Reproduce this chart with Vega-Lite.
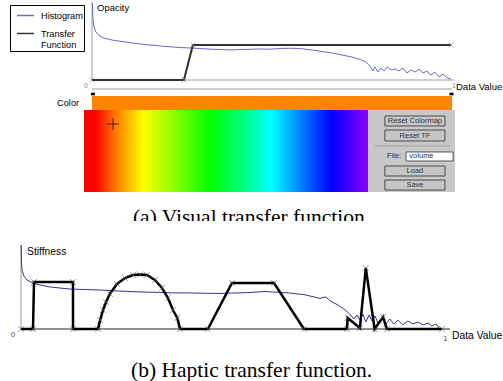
{
  "$schema": "https://vega.github.io/schema/vega-lite/v6.json",
  "width": 503,
  "height": 381,
  "padding": 0,
  "autosize": {"type": "none"},
  "background": "white",
  "config": {"view": {"stroke": null}, "text": {"font": "Liberation Sans"}},
  "datasets": {
    "rulesA": [
      {"dv": 0, "dv2": 0, "op": 0, "op2": 1.01},
      {"dv": 0, "dv2": 1.008, "op": 0, "op2": 0},
      {"dv": 0, "dv2": 1.003, "op": -0.117, "op2": -0.117}
    ],
    "barA": [{"dv": 0, "dv2": 1.003, "op": -0.208, "op2": -0.39}],
    "handlesA": [
      {"dv": -0.003, "dv2": 0.0085, "op": -0.165, "op2": -0.199},
      {"dv": 0.9958, "dv2": 1.007, "op": -0.165, "op2": -0.199}
    ],
    "histA": [
      {"s": "Histogram", "dv": 0.0014, "op": 1.0},
      {"s": "Histogram", "dv": 0.0028, "op": 0.779},
      {"s": "Histogram", "dv": 0.0056, "op": 0.688},
      {"s": "Histogram", "dv": 0.011, "op": 0.623},
      {"s": "Histogram", "dv": 0.0195, "op": 0.578},
      {"s": "Histogram", "dv": 0.033, "op": 0.545},
      {"s": "Histogram", "dv": 0.056, "op": 0.519},
      {"s": "Histogram", "dv": 0.092, "op": 0.494},
      {"s": "Histogram", "dv": 0.134, "op": 0.468},
      {"s": "Histogram", "dv": 0.189, "op": 0.442},
      {"s": "Histogram", "dv": 0.245, "op": 0.422},
      {"s": "Histogram", "dv": 0.301, "op": 0.409},
      {"s": "Histogram", "dv": 0.33, "op": 0.4},
      {"s": "Histogram", "dv": 0.357, "op": 0.396},
      {"s": "Histogram", "dv": 0.385, "op": 0.39},
      {"s": "Histogram", "dv": 0.412, "op": 0.396},
      {"s": "Histogram", "dv": 0.44, "op": 0.398},
      {"s": "Histogram", "dv": 0.468, "op": 0.403},
      {"s": "Histogram", "dv": 0.495, "op": 0.4},
      {"s": "Histogram", "dv": 0.524, "op": 0.409},
      {"s": "Histogram", "dv": 0.55, "op": 0.412},
      {"s": "Histogram", "dv": 0.579, "op": 0.409},
      {"s": "Histogram", "dv": 0.613, "op": 0.39},
      {"s": "Histogram", "dv": 0.641, "op": 0.37},
      {"s": "Histogram", "dv": 0.669, "op": 0.351},
      {"s": "Histogram", "dv": 0.696, "op": 0.325},
      {"s": "Histogram", "dv": 0.724, "op": 0.299},
      {"s": "Histogram", "dv": 0.747, "op": 0.266},
      {"s": "Histogram", "dv": 0.763, "op": 0.234},
      {"s": "Histogram", "dv": 0.774, "op": 0.182},
      {"s": "Histogram", "dv": 0.783, "op": 0.117},
      {"s": "Histogram", "dv": 0.788, "op": 0.169},
      {"s": "Histogram", "dv": 0.797, "op": 0.104},
      {"s": "Histogram", "dv": 0.805, "op": 0.156},
      {"s": "Histogram", "dv": 0.813, "op": 0.117},
      {"s": "Histogram", "dv": 0.822, "op": 0.169},
      {"s": "Histogram", "dv": 0.833, "op": 0.13},
      {"s": "Histogram", "dv": 0.844, "op": 0.143},
      {"s": "Histogram", "dv": 0.855, "op": 0.117},
      {"s": "Histogram", "dv": 0.866, "op": 0.156},
      {"s": "Histogram", "dv": 0.877, "op": 0.091},
      {"s": "Histogram", "dv": 0.889, "op": 0.13},
      {"s": "Histogram", "dv": 0.9, "op": 0.104},
      {"s": "Histogram", "dv": 0.911, "op": 0.143},
      {"s": "Histogram", "dv": 0.922, "op": 0.091},
      {"s": "Histogram", "dv": 0.933, "op": 0.117},
      {"s": "Histogram", "dv": 0.944, "op": 0.065},
      {"s": "Histogram", "dv": 0.955, "op": 0.104},
      {"s": "Histogram", "dv": 0.967, "op": 0.039},
      {"s": "Histogram", "dv": 0.978, "op": 0.078},
      {"s": "Histogram", "dv": 0.989, "op": 0.026},
      {"s": "Histogram", "dv": 1.0, "op": 0.013}
    ],
    "tfA": [
      {"s": "Transfer Function", "i": 0, "dv": 0, "op": 0},
      {"s": "Transfer Function", "i": 1, "dv": 0.256, "op": 0},
      {"s": "Transfer Function", "i": 2, "dv": 0.281, "op": 0.455},
      {"s": "Transfer Function", "i": 3, "dv": 1.0, "op": 0.455}
    ],
    "labelsA": [
      {"label": "Opacity", "dv": 0.0139, "op": 0.935},
      {"label": "Data Value", "dv": 1.0139, "op": -0.097}
    ],
    "labelsAright": [{"label": "Color", "dv": -0.036, "op": -0.299}],
    "ticksA": [
      {"label": "0", "dv": -0.0167, "op": -0.078},
      {"label": "1", "dv": 1.0084, "op": -0.078}
    ],
    "captionA": [{"label": "(a)  Visual transfer function", "dv": 0.114, "op": -1.87}],
    "maskA": [{"dv": 0.05, "dv2": 0.85, "op": -1.831, "op2": -2.0}],
    "gradW": [{"wx": 0, "wx2": 0.7655, "wy": 0, "wy2": 1}],
    "panelW": [{"wx": 0.7655, "wx2": 1, "wy": 0, "wy2": 1}],
    "buttonsW": [
      {"wx": 0.811, "wx2": 0.973, "wy": 0.073, "wy2": 0.195},
      {"wx": 0.811, "wx2": 0.973, "wy": 0.244, "wy2": 0.378},
      {"wx": 0.811, "wx2": 0.973, "wy": 0.683, "wy2": 0.805},
      {"wx": 0.811, "wx2": 0.973, "wy": 0.854, "wy2": 0.976}
    ],
    "btnLabelsW": [
      {"label": "Reset Colormap", "wx": 0.892, "wy": 0.134},
      {"label": "Reset TF", "wx": 0.892, "wy": 0.311},
      {"label": "Load", "wx": 0.892, "wy": 0.744},
      {"label": "Save", "wx": 0.892, "wy": 0.915}
    ],
    "sepW": [{"wx": 0.784, "wx2": 0.987, "wy": 0.439, "wy2": 0.439}],
    "fieldW": [{"wx": 0.868, "wx2": 0.995, "wy": 0.512, "wy2": 0.622}],
    "fieldLabelsW": [
      {"label": "File:", "wx": 0.817, "wy": 0.567},
      {"label": "volume", "wx": 0.877, "wy": 0.567}
    ],
    "crossW": [{"wx": 0.0782, "wy": 0.171}],
    "axisB": [{"dv": 0, "dv2": 0, "st": -0.01, "st2": 1.0}],
    "baseB": [{"dv": 0, "dv2": 1.019, "st": 0, "st2": 0}],
    "histB": [
      {"dv": 0.0005, "st": 1.0}, {"dv": 0.001, "st": 0.8}, {"dv": 0.0024, "st": 0.7},
      {"dv": 0.007, "st": 0.63}, {"dv": 0.014, "st": 0.583}, {"dv": 0.0285, "st": 0.548},
      {"dv": 0.045, "st": 0.524}, {"dv": 0.069, "st": 0.5}, {"dv": 0.116, "st": 0.476},
      {"dv": 0.15, "st": 0.47}, {"dv": 0.188, "st": 0.464}, {"dv": 0.22, "st": 0.455},
      {"dv": 0.259, "st": 0.446}, {"dv": 0.29, "st": 0.44}, {"dv": 0.33, "st": 0.435},
      {"dv": 0.36, "st": 0.43}, {"dv": 0.401, "st": 0.429}, {"dv": 0.44, "st": 0.425},
      {"dv": 0.473, "st": 0.423}, {"dv": 0.5, "st": 0.428}, {"dv": 0.52, "st": 0.43},
      {"dv": 0.544, "st": 0.435}, {"dv": 0.56, "st": 0.44}, {"dv": 0.58, "st": 0.446},
      {"dv": 0.6, "st": 0.44}, {"dv": 0.615, "st": 0.435}, {"dv": 0.635, "st": 0.43},
      {"dv": 0.656, "st": 0.417}, {"dv": 0.672, "st": 0.41}, {"dv": 0.686, "st": 0.393},
      {"dv": 0.698, "st": 0.38}, {"dv": 0.71, "st": 0.363}, {"dv": 0.717, "st": 0.375},
      {"dv": 0.724, "st": 0.381}, {"dv": 0.731, "st": 0.35}, {"dv": 0.739, "st": 0.321},
      {"dv": 0.753, "st": 0.286}, {"dv": 0.767, "st": 0.238}, {"dv": 0.781, "st": 0.179},
      {"dv": 0.791, "st": 0.119}, {"dv": 0.798, "st": 0.167}, {"dv": 0.805, "st": 0.107},
      {"dv": 0.812, "st": 0.179}, {"dv": 0.819, "st": 0.083}, {"dv": 0.827, "st": 0.167},
      {"dv": 0.834, "st": 0.095}, {"dv": 0.841, "st": 0.155}, {"dv": 0.848, "st": 0.071},
      {"dv": 0.857, "st": 0.131}, {"dv": 0.867, "st": 0.06}, {"dv": 0.876, "st": 0.119},
      {"dv": 0.886, "st": 0.06}, {"dv": 0.895, "st": 0.107}, {"dv": 0.907, "st": 0.048},
      {"dv": 0.919, "st": 0.095}, {"dv": 0.931, "st": 0.06}, {"dv": 0.943, "st": 0.083},
      {"dv": 0.955, "st": 0.048}, {"dv": 0.967, "st": 0.071}, {"dv": 0.976, "st": 0.036},
      {"dv": 0.986, "st": 0.06}, {"dv": 0.995, "st": 0.0}
    ],
    "tfB": [
      {"i": 0, "dv": 0, "st": 0}, {"i": 1, "dv": 0.0285, "st": 0}, {"i": 2, "dv": 0.0309, "st": 0.56},
      {"i": 3, "dv": 0.1235, "st": 0.56}, {"i": 4, "dv": 0.1236, "st": 0}, {"i": 5, "dv": 0.183, "st": 0},
      {"i": 6, "dv": 0.188, "st": 0.107}, {"i": 7, "dv": 0.195, "st": 0.226}, {"i": 8, "dv": 0.202, "st": 0.321},
      {"i": 9, "dv": 0.211, "st": 0.417}, {"i": 10, "dv": 0.228, "st": 0.536}, {"i": 11, "dv": 0.247, "st": 0.607},
      {"i": 12, "dv": 0.266, "st": 0.643}, {"i": 13, "dv": 0.283, "st": 0.649}, {"i": 14, "dv": 0.299, "st": 0.643},
      {"i": 15, "dv": 0.318, "st": 0.583}, {"i": 16, "dv": 0.335, "st": 0.488}, {"i": 17, "dv": 0.349, "st": 0.369},
      {"i": 18, "dv": 0.361, "st": 0.226}, {"i": 19, "dv": 0.371, "st": 0.131}, {"i": 20, "dv": 0.378, "st": 0},
      {"i": 21, "dv": 0.444, "st": 0}, {"i": 22, "dv": 0.501, "st": 0.548}, {"i": 23, "dv": 0.601, "st": 0.548},
      {"i": 24, "dv": 0.672, "st": 0}, {"i": 25, "dv": 0.774, "st": 0}, {"i": 26, "dv": 0.776, "st": 0.131},
      {"i": 27, "dv": 0.805, "st": 0.012}, {"i": 28, "dv": 0.819, "st": 0.726}, {"i": 29, "dv": 0.84, "st": 0},
      {"i": 30, "dv": 0.86, "st": 0.143}, {"i": 31, "dv": 0.869, "st": 0}, {"i": 32, "dv": 1.0, "st": 0}
    ],
    "labelsB": [
      {"label": "Stiffness", "dv": 0.0143, "st": 0.917},
      {"label": "Data Value", "dv": 1.0238, "st": -0.083}
    ],
    "ticksB": [
      {"label": "0", "dv": -0.019, "st": -0.071},
      {"label": "1", "dv": 1.008, "st": -0.119}
    ],
    "captionB": [{"label": "(b) Haptic transfer function.", "dv": 0.2613, "st": -0.571}]
  },
  "layer": [
    {
      "encoding": {
        "x": {"field": "dv", "type": "quantitative", "scale": {"domain": [0, 1], "range": [92, 451], "nice": false, "zero": false}, "axis": null},
        "y": {"field": "op", "type": "quantitative", "scale": {"domain": [0, 1], "range": [80, 3], "nice": false, "zero": false}, "axis": null}
      },
      "layer": [
        {"data": {"name": "rulesA"}, "mark": {"type": "rule", "color": "#9c9c9c", "strokeWidth": 1},
         "encoding": {"x2": {"field": "dv2"}, "y2": {"field": "op2"}}},
        {"data": {"name": "barA"}, "mark": {"type": "rect", "color": "#ff8400"},
         "encoding": {"x2": {"field": "dv2"}, "y2": {"field": "op2"}}},
        {"data": {"name": "handlesA"}, "mark": {"type": "rect", "color": "black"},
         "encoding": {"x2": {"field": "dv2"}, "y2": {"field": "op2"}}},
        {"data": {"name": "histA"}, "mark": {"type": "line", "strokeWidth": 1},
         "encoding": {"color": {"field": "s", "type": "nominal",
           "scale": {"domain": ["Histogram", "Transfer Function"], "range": ["#6a6ad2", "#333333"]},
           "legend": {"orient": "none", "legendX": 10, "legendY": 5, "title": null, "direction": "vertical",
             "strokeColor": "black", "fillColor": "white", "padding": 1, "symbolType": "stroke",
             "symbolSize": 289, "symbolStrokeWidth": 1.5, "symbolOffset": 5, "labelFont": "Liberation Sans",
             "labelFontSize": 9.2, "labelOffset": 6, "labelColor": "black", "rowPadding": 3, "labelLimit": 120,
             "labelExpr": "datum.label == 'Transfer Function' ? ['Transfer', 'Function'] : datum.label"}}}},
        {"data": {"name": "tfA"}, "mark": {"type": "line", "strokeWidth": 2},
         "encoding": {"order": {"field": "i"}, "color": {"field": "s", "type": "nominal",
           "scale": {"domain": ["Histogram", "Transfer Function"], "range": ["#6a6ad2", "#333333"]},
           "legend": {"orient": "none", "legendX": 10, "legendY": 5, "title": null, "direction": "vertical",
             "strokeColor": "black", "fillColor": "white", "padding": 1, "symbolType": "stroke",
             "symbolSize": 289, "symbolStrokeWidth": 1.5, "symbolOffset": 5, "labelFont": "Liberation Sans",
             "labelFontSize": 9.2, "labelOffset": 6, "labelColor": "black", "rowPadding": 3, "labelLimit": 120,
             "labelExpr": "datum.label == 'Transfer Function' ? ['Transfer', 'Function'] : datum.label"}}}},
        {"data": {"name": "tfA"}, "mark": {"type": "point", "shape": "M-1,-1L1,1M-1,1L1,-1", "size": 25, "filled": false, "color": "#777777", "strokeWidth": 0.8}},
        {"data": {"name": "labelsA"}, "mark": {"type": "text", "align": "left", "baseline": "middle", "fontSize": 9.5, "color": "black", "font": "Liberation Sans"},
         "encoding": {"text": {"field": "label"}}},
        {"data": {"name": "labelsAright"}, "mark": {"type": "text", "align": "right", "baseline": "middle", "fontSize": 9.2, "color": "black", "font": "Liberation Sans"},
         "encoding": {"text": {"field": "label"}}},
        {"data": {"name": "ticksA"}, "mark": {"type": "text", "align": "center", "baseline": "middle", "fontSize": 7, "color": "#888888", "font": "Liberation Sans"},
         "encoding": {"text": {"field": "label"}}},
        {"data": {"name": "captionA"}, "mark": {"type": "text", "align": "left", "baseline": "alphabetic", "fontSize": 21.5, "color": "black", "font": "Liberation Serif"},
         "encoding": {"text": {"field": "label"}}},
        {"data": {"name": "maskA"}, "mark": {"type": "rect", "color": "white"},
         "encoding": {"x2": {"field": "dv2"}, "y2": {"field": "op2"}}}
      ]
    },
    {
      "encoding": {
        "x": {"field": "wx", "type": "quantitative", "scale": {"domain": [0, 1], "range": [84, 455], "nice": false, "zero": false}, "axis": null},
        "y": {"field": "wy", "type": "quantitative", "scale": {"domain": [0, 1], "range": [110, 192], "nice": false, "zero": false}, "axis": null}
      },
      "layer": [
        {"data": {"name": "gradW"},
         "mark": {"type": "rect", "fill": {"gradient": "linear", "x1": 0, "y1": 0, "x2": 1, "y2": 0, "stops": [
           {"offset": 0, "color": "#ff0000"}, {"offset": 0.04, "color": "#ff0000"},
           {"offset": 0.116, "color": "#ff8000"}, {"offset": 0.208, "color": "#ffff00"},
           {"offset": 0.328, "color": "#80ff00"}, {"offset": 0.444, "color": "#00ff00"},
           {"offset": 0.561, "color": "#00ff80"}, {"offset": 0.66, "color": "#00ffff"},
           {"offset": 0.765, "color": "#0080ff"}, {"offset": 0.871, "color": "#0000ff"},
           {"offset": 0.988, "color": "#8000ff"}, {"offset": 1, "color": "#8000ff"}]}},
         "encoding": {"x2": {"field": "wx2"}, "y2": {"field": "wy2"}}},
        {"data": {"name": "panelW"}, "mark": {"type": "rect", "color": "#c8c8c8"},
         "encoding": {"x2": {"field": "wx2"}, "y2": {"field": "wy2"}}},
        {"data": {"name": "buttonsW"}, "mark": {"type": "rect", "fill": "#c6c6c6", "stroke": "#4a4a4a", "strokeWidth": 1},
         "encoding": {"x2": {"field": "wx2"}, "y2": {"field": "wy2"}}},
        {"data": {"name": "sepW"}, "mark": {"type": "rule", "color": "#9a9a9a", "strokeWidth": 1},
         "encoding": {"x2": {"field": "wx2"}, "y2": {"field": "wy2"}}},
        {"data": {"name": "fieldW"}, "mark": {"type": "rect", "fill": "white", "stroke": "#555555", "strokeWidth": 1},
         "encoding": {"x2": {"field": "wx2"}, "y2": {"field": "wy2"}}},
        {"data": {"name": "btnLabelsW"}, "mark": {"type": "text", "align": "center", "baseline": "middle", "fontSize": 7.5, "color": "#333333", "font": "Liberation Sans"},
         "encoding": {"text": {"field": "label"}}},
        {"data": {"name": "fieldLabelsW"}, "mark": {"type": "text", "align": "left", "baseline": "middle", "fontSize": 7.5, "color": "#333333", "font": "Liberation Sans"},
         "encoding": {"text": {"field": "label"}}},
        {"data": {"name": "crossW"}, "mark": {"type": "point", "shape": "M-1,0L1,0M0,-1L0,1", "size": 144, "filled": false, "color": "black", "strokeWidth": 1}}
      ]
    },
    {
      "encoding": {
        "x": {"field": "dv", "type": "quantitative", "scale": {"domain": [0, 1], "range": [21, 442], "nice": false, "zero": false}, "axis": null},
        "y": {"field": "st", "type": "quantitative", "scale": {"domain": [0, 1], "range": [329, 245], "nice": false, "zero": false}, "axis": null}
      },
      "layer": [
        {"data": {"name": "axisB"}, "mark": {"type": "rule", "color": "#9c9c9c", "strokeWidth": 1},
         "encoding": {"x2": {"field": "dv2"}, "y2": {"field": "st2"}}},
        {"data": {"name": "baseB"}, "mark": {"type": "rule", "color": "#222222", "strokeWidth": 1},
         "encoding": {"x2": {"field": "dv2"}, "y2": {"field": "st2"}}},
        {"data": {"name": "histB"}, "mark": {"type": "line", "strokeWidth": 1, "color": "#33339c"}},
        {"data": {"name": "tfB"}, "mark": {"type": "line", "strokeWidth": 2.5, "color": "black"},
         "encoding": {"order": {"field": "i"}}},
        {"data": {"name": "tfB"}, "mark": {"type": "point", "shape": "M-1,-1L1,1M-1,1L1,-1", "size": 36, "filled": false, "color": "#555555", "strokeWidth": 0.8}},
        {"data": {"name": "labelsB"}, "mark": {"type": "text", "align": "left", "baseline": "middle", "fontSize": 10.3, "color": "black", "font": "Liberation Sans"},
         "encoding": {"text": {"field": "label"}}},
        {"data": {"name": "ticksB"}, "mark": {"type": "text", "align": "center", "baseline": "middle", "fontSize": 8, "color": "#555555", "font": "Liberation Sans"},
         "encoding": {"text": {"field": "label"}}},
        {"data": {"name": "captionB"}, "mark": {"type": "text", "align": "left", "baseline": "alphabetic", "fontSize": 21.5, "color": "black", "font": "Liberation Serif"},
         "encoding": {"text": {"field": "label"}}}
      ]
    }
  ],
  "resolve": {"scale": {"x": "independent", "y": "independent", "color": "independent"}}
}
